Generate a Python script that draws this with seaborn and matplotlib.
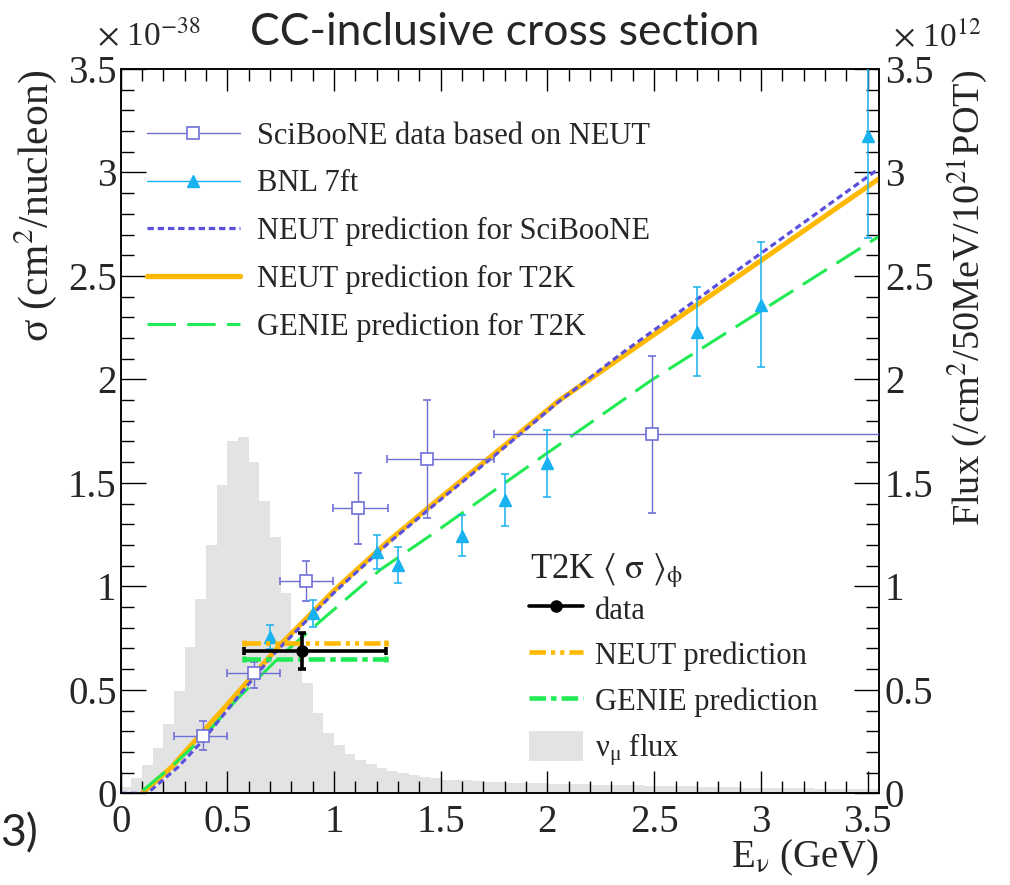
import numpy as np
import pandas as pd
import matplotlib
matplotlib.use("Agg")
import matplotlib.pyplot as plt
import seaborn as sns
from matplotlib.lines import Line2D
from matplotlib.patches import Patch
from matplotlib.ticker import MultipleLocator, FixedLocator, FixedFormatter

# ---------------- data ----------------
# SciBooNE data (based on NEUT)
sb_E = [0.386, 0.623, 0.867, 1.111, 1.434, 2.488]
sb_sig = [0.277, 0.580, 1.027, 1.377, 1.615, 1.735]
sb_Elo = [0.248, 0.498, 0.746, 0.993, 1.249, 1.749]
sb_Ehi = [0.498, 0.748, 0.996, 1.251, 1.749, 4.000]
sb_siglo = [0.210, 0.507, 0.930, 1.203, 1.328, 1.353]
sb_sighi = [0.349, 0.636, 1.124, 1.549, 1.900, 2.114]

# BNL 7ft
bnl_E = [0.70, 0.90, 1.20, 1.30, 1.60, 1.80, 2.00, 2.70, 3.00, 3.50]
bnl_sig = [0.757, 0.870, 1.167, 1.103, 1.245, 1.417, 1.594, 2.230, 2.362, 3.175]
bnl_err = [0.058, 0.065, 0.083, 0.088, 0.098, 0.126, 0.160, 0.215, 0.300, 0.490]

# NEUT prediction for SciBooNE
nsb_E = [0.0, 0.12, 0.143, 0.27, 0.386, 0.55, 0.72, 1.00, 1.25, 1.50, 1.75, 2.05, 2.34, 3.555]
nsb_sig = [0.0, 0.0, 0.016, 0.128, 0.257, 0.467, 0.676, 0.97, 1.205, 1.42, 1.63, 1.89, 2.12, 3.02]

# NEUT prediction for T2K
nt2k_E = [0.10, 0.24, 0.50, 0.75, 1.00, 1.25, 1.50, 1.75, 2.05, 3.555]
nt2k_sig = [0.0, 0.128, 0.43, 0.72, 0.98, 1.215, 1.43, 1.64, 1.895, 2.971]

# GENIE prediction for T2K
gt2k_E = [0.105, 0.237, 0.386, 0.55, 0.746, 0.90, 1.215, 1.45, 2.00, 2.488, 3.555]
gt2k_sig = [0.015, 0.128, 0.27, 0.46, 0.66, 0.80, 1.079, 1.245, 1.645, 1.997, 2.692]

# T2K flux-averaged
t2k_E = 0.848
t2k_Elo = 0.578
t2k_Ehi = 1.243
t2k_data = 0.689
t2k_err = 0.088
t2k_neut = 0.726
t2k_genie = 0.650

# nu_mu flux, 50 MeV bins from 0
flux_binw = 0.05
flux = [0.030, 0.072, 0.137, 0.22, 0.335, 0.496, 0.709, 0.937, 1.20, 1.49,
        1.70, 1.72, 1.60, 1.414, 1.24, 0.97, 0.71, 0.533, 0.386, 0.29,
        0.235, 0.188, 0.161, 0.143, 0.123, 0.11, 0.098, 0.089, 0.078, 0.072,
        0.066, 0.064, 0.062, 0.060, 0.056, 0.054, 0.052, 0.051, 0.050, 0.049,
        0.047, 0.046, 0.045, 0.044, 0.042, 0.041, 0.040, 0.039, 0.038, 0.037,
        0.036, 0.035, 0.034, 0.033, 0.032, 0.031, 0.030, 0.029, 0.028, 0.028,
        0.027, 0.026, 0.025, 0.025, 0.024, 0.023, 0.023, 0.022, 0.021, 0.021,
        0.020]

tick_vals = [0, 0.5, 1, 1.5, 2, 2.5, 3, 3.5]
tick_labels = ["0", "0.5", "1", "1.5", "2", "2.5", "3", "3.5"]

# ---------------- style ----------------
c_sb = "#6f6fd8"
c_bnl = "#18b2f0"
c_nsb = "#5a50dc"
c_or = "#ffb900"
c_gr = "#22ea55"
c_flux = "#e3e3e3"
SERIF = ["Liberation Serif", "DejaVu Serif"]

sns.set_theme(style="ticks")
plt.rcParams["font.family"] = SERIF
plt.rcParams["mathtext.fontset"] = "stix"
plt.rcParams["axes.linewidth"] = 1.1

W, H = 1010, 885
fig = plt.figure(figsize=(W / 100, H / 100), dpi=100)
ax = fig.add_axes([120.7 / W, 1 - 793.3 / H, (879.3 - 120.7) / W, (793.3 - 69.0) / H])
ax2 = ax.twinx()
ax.set_zorder(2)
ax2.set_zorder(1)
ax.patch.set_visible(False)

# flux histogram
n_bins = len(flux)
flux_df = pd.DataFrame({"E": (np.arange(n_bins) + 0.5) * flux_binw, "flux": flux})
sns.histplot(data=flux_df, x="E", weights="flux", binwidth=flux_binw,
             binrange=(0, n_bins * flux_binw), element="step", fill=True,
             color=c_flux, alpha=1, linewidth=0, ax=ax2)

# model curves
sns.lineplot(x=nt2k_E, y=nt2k_sig, ax=ax, color=c_or, lw=3.6, legend=False)
sns.lineplot(x=gt2k_E, y=gt2k_sig, ax=ax, color=c_gr, lw=2.2, legend=False,
             linestyle=(0, (9.3, 3.7)))
sns.lineplot(x=nsb_E, y=nsb_sig, ax=ax, color=c_nsb, lw=2.3, legend=False,
             linestyle=(0, (2.0, 1.2)))

# SciBooNE
sb_E_a = np.array(sb_E)
sb_sig_a = np.array(sb_sig)
ax.errorbar(sb_E, sb_sig,
            xerr=[sb_E_a - np.array(sb_Elo), np.array(sb_Ehi) - sb_E_a],
            yerr=[sb_sig_a - np.array(sb_siglo), np.array(sb_sighi) - sb_sig_a],
            fmt="s", ms=8.5, mfc="white", mec=c_sb, mew=1.2, ecolor=c_sb,
            elinewidth=1.0, capsize=3, capthick=1.0, zorder=4)

# BNL
ax.errorbar(bnl_E, bnl_sig, yerr=bnl_err, fmt="^", ms=9, color=c_bnl,
            ecolor=c_bnl, elinewidth=1.1, capsize=3, capthick=1.1, zorder=4)

# T2K flux averaged
for val, col, dash in [(t2k_neut, c_or, (3.6, 1.1, 0.9, 1.1, 0.9, 1.1)),
                       (t2k_genie, c_gr, (3.6, 1.1, 1.2, 1.1))]:
    eb = ax.errorbar([t2k_E], [val], xerr=[[t2k_E - t2k_Elo], [t2k_Ehi - t2k_E]],
                     fmt="none", ecolor=col, elinewidth=3.3, capsize=2, capthick=3.3,
                     zorder=5)
    eb[2][0].set_linestyle((0, dash))
ax.errorbar([t2k_E], [t2k_data], xerr=[[t2k_E - t2k_Elo], [t2k_Ehi - t2k_E]],
            yerr=t2k_err, fmt="o", ms=8, color="black", ecolor="black",
            elinewidth=2.6, capsize=3, capthick=2.6, zorder=6)

# axes
for a in (ax, ax2):
    a.set_ylim(0, 3.5)
    a.set_xlim(0, 3.555)
    a.yaxis.set_major_locator(FixedLocator(tick_vals))
    a.yaxis.set_major_formatter(FixedFormatter(tick_labels))
    a.yaxis.set_minor_locator(MultipleLocator(0.1))
    a.set_ylabel("")
    a.set_xlabel("")
    for s in a.spines.values():
        s.set_visible(True)
        s.set_color("black")
        s.set_linewidth(1.1)
ax.xaxis.set_major_locator(FixedLocator(tick_vals))
ax.xaxis.set_major_formatter(FixedFormatter(tick_labels))
ax.xaxis.set_minor_locator(MultipleLocator(0.1))

ax.tick_params(axis="x", which="both", direction="in", top=True, bottom=True,
               labelsize=28, pad=8, width=1.0, color="black")
ax.tick_params(axis="x", which="major", length=16)
ax.tick_params(axis="x", which="minor", length=8.5)
ax.tick_params(axis="y", which="both", direction="in", left=True, right=False,
               labelsize=28, pad=3, width=1.0, color="black")
ax.tick_params(axis="y", which="major", length=18)
ax.tick_params(axis="y", which="minor", length=9.5)
ax2.tick_params(axis="y", which="both", direction="in", right=True, left=False,
                labelsize=28, pad=4, width=1.0, color="black")
ax2.tick_params(axis="y", which="major", length=18)
ax2.tick_params(axis="y", which="minor", length=9.5)

# legends
h1 = [Line2D([0], [0], color=c_sb, lw=1.0, marker="s", ms=8.5, mfc="white", mec=c_sb, mew=1.2),
      Line2D([0], [0], color=c_bnl, lw=1.0, marker="^", ms=9),
      Line2D([0], [0], color=c_nsb, lw=2.3, linestyle=(0, (2.0, 1.2))),
      Line2D([0], [0], color=c_or, lw=3.8),
      Line2D([0], [0], color=c_gr, lw=2.2, linestyle=(0, (9.3, 3.7)))]
l1 = ["SciBooNE data based on NEUT", "BNL 7ft", "NEUT prediction for SciBooNE",
      "NEUT prediction for T2K", "GENIE prediction for T2K"]
leg1 = ax.legend(h1, l1, loc="upper left", bbox_to_anchor=(147 / W, 1 - 122 / H),
                 bbox_transform=fig.transFigure, frameon=False, fontsize=22,
                 handlelength=3.04, handletextpad=0.55, labelspacing=0.6,
                 borderpad=0, borderaxespad=0)
ax.add_artist(leg1)

h2 = [Line2D([0], [0], color="black", lw=2.6, marker="o", ms=8),
      Line2D([0], [0], color=c_or, lw=3.3, linestyle=(0, (3.6, 1.1, 0.9, 1.1, 0.9, 1.1))),
      Line2D([0], [0], color=c_gr, lw=3.3, linestyle=(0, (3.6, 1.1, 1.2, 1.1))),
      Patch(facecolor=c_flux, edgecolor="none")]
l2 = ["data", "NEUT prediction", "GENIE prediction", r"$\mathregular{\nu_{\mu}}$ flux"]
leg2 = ax.legend(h2, l2, loc="upper left", bbox_to_anchor=(529 / W, 1 - 593 / H),
                 bbox_transform=fig.transFigure, frameon=False, fontsize=22,
                 handlelength=1.76, handleheight=1.15,
                 handletextpad=0.4, labelspacing=0.44, borderpad=0, borderaxespad=0)
fig.text(530 / W, 1 - 578 / H, r"T2K $\langle\ \mathrm{\sigma}\ \rangle_{\mathrm{\phi}}$",
         ha="left", va="baseline", fontsize=25)

# force serif tick labels
for lbl in ax.get_xticklabels() + ax.get_yticklabels() + ax2.get_yticklabels():
    lbl.set_fontfamily(SERIF)

# texts
fig.text(36 / W, 1 - 70 / H, r"σ (cm$^{2}$/nucleon)", rotation=90, ha="center",
         va="top", fontsize=30)
fig.text(968 / W, 1 - 70 / H, r"Flux (/cm$^{2}$/50MeV/10$^{21}$POT)", rotation=90,
         ha="center", va="top", fontsize=27.5)
fig.text(879 / W, 1 - 878 / H, r"E$_{\mathrm{\nu}}$ (GeV)", ha="right", va="bottom", fontsize=28)
fig.text(97 / W, 1 - 46 / H, r"$\times$ 10$^{-38}$", ha="left", va="baseline", fontsize=24)
fig.text(893 / W, 1 - 46 / H, r"$\times$ 10$^{12}$", ha="left", va="baseline", fontsize=24)
fig.text(505 / W, 1 - 45 / H, "CC-inclusive cross section", family=["Lato", "DejaVu Sans"],
         fontsize=32, ha="center", va="baseline")
fig.text(0 / W, 1 - 846 / H, "3)", family=["Lato", "DejaVu Sans"], fontsize=32,
         ha="left", va="baseline")

fig.savefig("out.png", dpi=100)
